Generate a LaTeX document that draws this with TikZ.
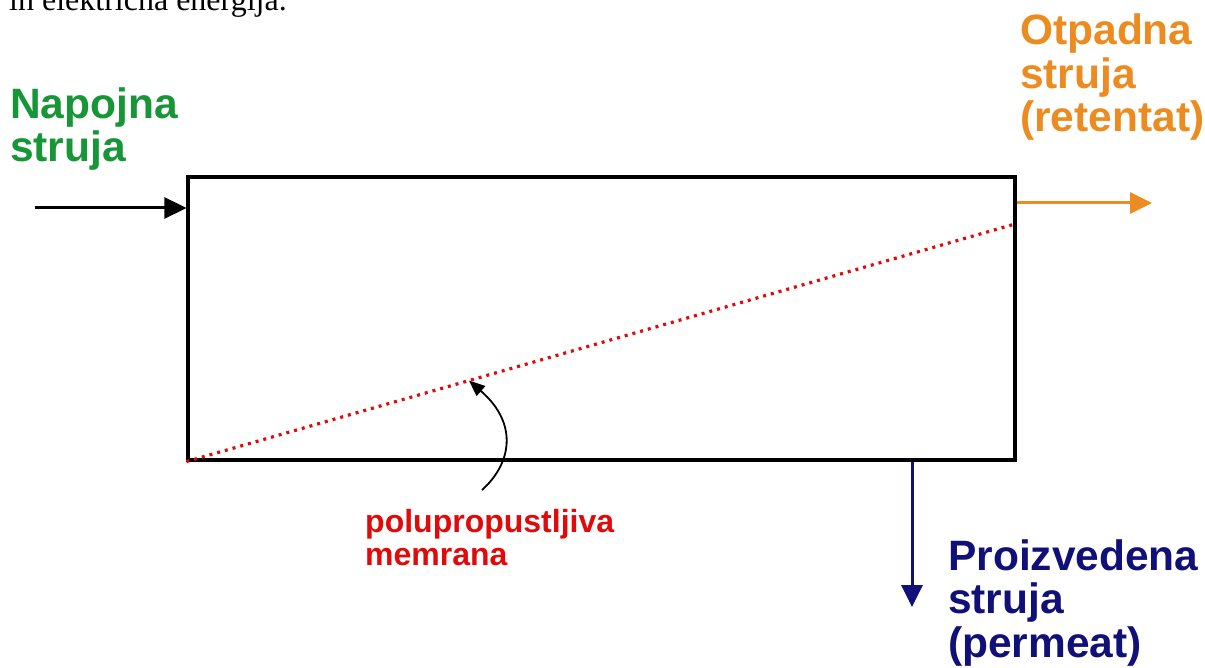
\documentclass[tikz,border=0pt]{standalone}
\usepackage{fontspec}
\setmainfont{Liberation Sans}
\newfontfamily\pageserif{Liberation Serif}
\usetikzlibrary{positioning,arrows.meta,calc}
\definecolor{feedgreen}{RGB}{22,150,55}
\definecolor{retorange}{RGB}{236,140,32}
\definecolor{permblue}{RGB}{16,16,120}
\definecolor{memred}{RGB}{225,10,10}
\tikzset{
  mfbox/.style={draw=black, line width=3.2pt, minimum width=827pt, minimum height=283pt,
                inner sep=0pt},
  mfflow/.style={line width=3pt, -{Triangle[length=22pt,width=21pt]}},
  mfpoint/.style={line width=1.8pt, -{Triangle[length=16pt,width=13pt]}},
  mfmem/.style={draw=memred, line width=3.2pt, dash pattern={on 3pt off 5pt}},
  mflab/.style={font=\bfseries\fontsize{42.5}{43.5}\selectfont, align=left, anchor=base west,
                inner sep=0pt},
  mfnote/.style={font=\bfseries\fontsize{32}{33}\selectfont, align=left, anchor=base west,
                 inner sep=0pt, text=memred},
}

\begin{document}
\begin{tikzpicture}[x=1pt,y=-1pt]
  \useasboundingbox (0,0) rectangle (1205,668);
  % cut-off line of the page above
  \node[font=\pageserif\fontsize{32}{36}\selectfont, anchor=base west, inner sep=0pt]
    (pagetext) at (9,11) {in električna energija.};
  % membrane module
  \node[mfbox] (box) at (601.5,318.5) {};
  \coordinate (memend) at (1015,224);
  \draw[mfmem] (box.south west) -- (memend);
  \coordinate (memmark) at ($(box.south west)!0.341!(memend)$);
  % streams
  \coordinate (feedin) at (35,208);
  \coordinate (retout) at (1152,203);
  \coordinate (permout) at (912,607);
  \draw[mfflow] (feedin) -- (feedin -| box.west);
  \draw[mfflow, retorange] (retout -| box.east) -- (retout);
  \draw[mfflow, permblue] (permout |- box.south) -- (permout);
  % labels (anchored at the baseline of the last line)
  \node[mflab, text=feedgreen] (feedlab) at (10,162) {Napojna\\struja};
  \node[mflab, text=retorange] (retlab) at (1020,132) {Otpadna\\struja\\(retentat)};
  \node[mflab, text=permblue] (permlab) at (948,657) {Proizvedena\\struja\\(permeat)};
  \node[mfnote] (memlab) at (365,565) {polupropustljiva\\memrana};
  \coordinate (memtail) at (482,490);
  \draw[mfpoint] (memtail) .. controls (510,465) and (520,425) .. (memmark);
\end{tikzpicture}
\end{document}
